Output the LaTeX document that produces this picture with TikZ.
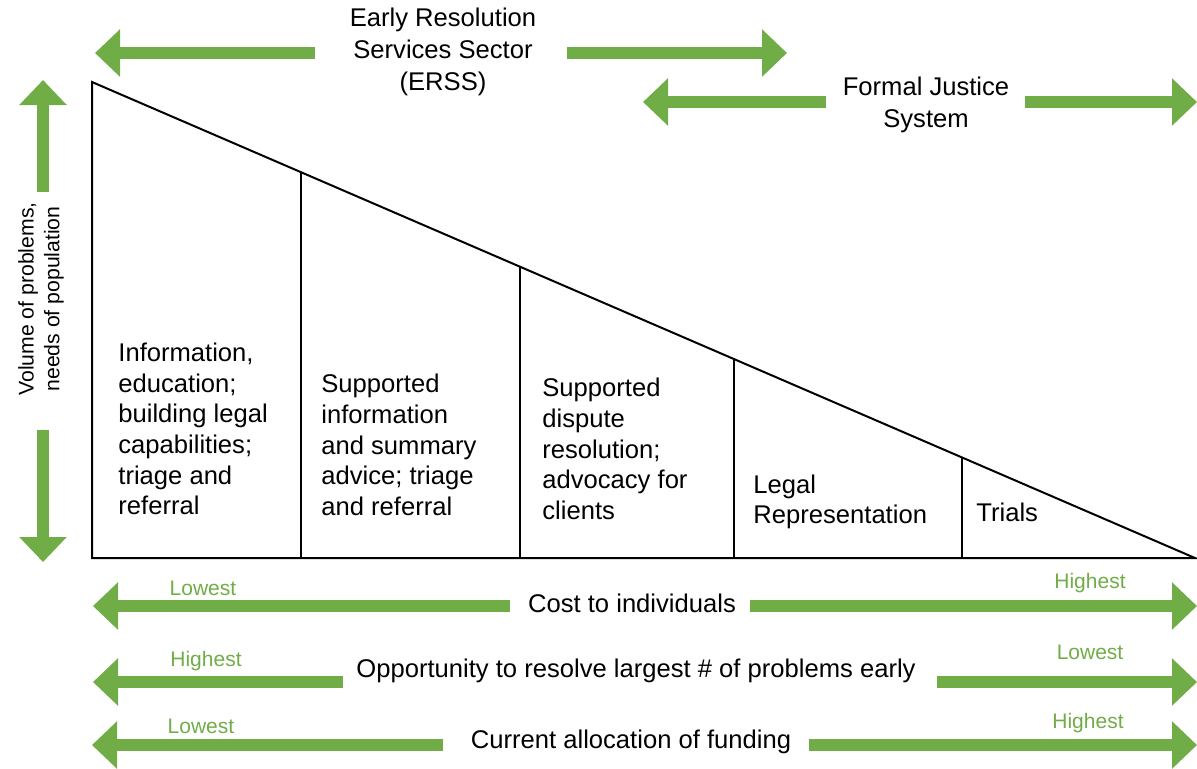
\documentclass[tikz,border=0pt]{standalone}
\usepackage{fontspec}
\setmainfont{Liberation Sans}
\usetikzlibrary{arrows.meta}
\definecolor{grn}{RGB}{112,173,71}
\begin{document}
\begin{tikzpicture}[x=0.5pt,y=-0.5pt,
  garrow/.style={draw=grn, line width=6pt, -{Triangle[width=23pt,length=12.5pt]}},
  body/.style={font=\fontsize{12.8}{15.3}\selectfont, align=left, inner sep=0pt, text=black},
  head/.style={font=\fontsize{12.8}{16}\selectfont, align=center, inner sep=0pt, text=black},
  glabel/.style={font=\fontsize{10.5}{12}\selectfont, text=grn, inner sep=0pt},
  side/.style={font=\fontsize{10.6}{12.8}\selectfont, align=center, inner sep=0pt, rotate=90},
  tri/.style={draw=black, line width=1pt, line join=miter}]
\useasboundingbox (0,0) rectangle (1197,768);

% triangle
\coordinate (A) at (92,82);
\coordinate (B) at (92,558);
\coordinate (C) at (1195,558);
\draw[tri] (A) -- (B) -- (C) -- cycle;
\foreach \n/\x/\y in {1/301/172, 2/520/266, 3/734/358, 4/962/457}{
  \coordinate (d\n b) at (\x,558);
  \coordinate (d\n t) at (\x,\y);
  \draw[tri] (d\n b) -- (d\n t);
}

% cell texts
\node[body, anchor=west] (c1) at (118,429) {Information,\\education;\\building legal\\capabilities;\\triage and\\referral};
\node[body, anchor=west] (c2) at (321,445) {Supported\\information\\and summary\\advice; triage\\and referral};
\node[body, anchor=west] (c3) at (542,449) {Supported\\dispute\\resolution;\\advocacy for\\clients};
\node[body, anchor=west] (c4) at (753,502) {Legal\\Representation};
\node[body, anchor=west] (c5) at (976,512) {Trials};

% top arrows
\node[head] (erss) at (443,52) {Early Resolution\\Services Sector\\(ERSS)};
\coordinate (erssLs) at (315,53);
\coordinate (erssLt) at (95,53);
\coordinate (erssRs) at (567,53);
\coordinate (erssRt) at (787,53);
\draw[garrow] (erssLs) -- (erssLt);
\draw[garrow] (erssRs) -- (erssRt);

\node[head] (fjs) at (926,105) {Formal Justice\\System};
\coordinate (fjsLs) at (826,102);
\coordinate (fjsLt) at (643,102);
\coordinate (fjsRs) at (1025,102);
\coordinate (fjsRt) at (1197,102);
\draw[garrow] (fjsLs) -- (fjsLt);
\draw[garrow] (fjsRs) -- (fjsRt);

% vertical arrows
\node[side] (vol) at (41,299) {Volume of problems,\\needs of population};
\coordinate (upS) at (43,192);
\coordinate (upT) at (43,80);
\coordinate (dnS) at (43,430);
\coordinate (dnT) at (43,562);
\draw[garrow] (upS) -- (upT);
\draw[garrow] (dnS) -- (dnT);

% bottom rows
\node[body] (cost) at (632,603) {Cost to individuals};
\coordinate (r1Ls) at (510,606);
\coordinate (r1Lt) at (93,606);
\coordinate (r1Rs) at (750,606);
\coordinate (r1Rt) at (1197,606);
\draw[garrow] (r1Ls) -- (r1Lt);
\draw[garrow] (r1Rs) -- (r1Rt);
\node[glabel] (l1a) at (203,588) {Lowest};
\node[glabel] (l1b) at (1090,583) {Highest};

\node[body] (opp) at (636,671) {Opportunity to resolve largest \# of problems early};
\coordinate (r2Ls) at (343,682);
\coordinate (r2Lt) at (93,682);
\coordinate (r2Rs) at (937,682);
\coordinate (r2Rt) at (1197,682);
\draw[garrow] (r2Ls) -- (r2Lt);
\draw[garrow] (r2Rs) -- (r2Rt);
\node[glabel] (l2a) at (206,661) {Highest};
\node[glabel] (l2b) at (1090,652) {Lowest};

\node[body] (fund) at (631,742) {Current allocation of funding};
\coordinate (r3Ls) at (443,745);
\coordinate (r3Lt) at (92,745);
\coordinate (r3Rs) at (809,745);
\coordinate (r3Rt) at (1197,745);
\draw[garrow] (r3Ls) -- (r3Lt);
\draw[garrow] (r3Rs) -- (r3Rt);
\node[glabel] (l3a) at (201,726) {Lowest};
\node[glabel] (l3b) at (1088,723) {Highest};
\end{tikzpicture}
\end{document}
